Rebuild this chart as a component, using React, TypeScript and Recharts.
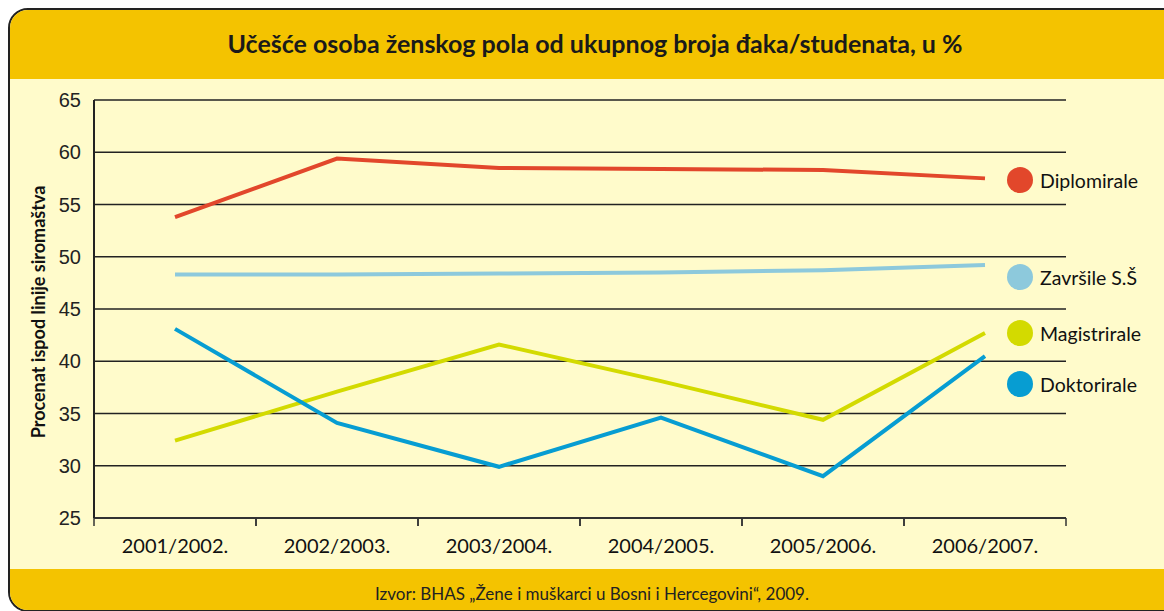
import { LineChart, Line, XAxis, YAxis, CartesianGrid } from 'recharts'

const years = ['2001/2002.', '2002/2003.', '2003/2004.', '2004/2005.', '2005/2006.', '2006/2007.']
const diplomirale = [53.8, 59.4, 58.5, 58.4, 58.3, 57.5]
const zavrsile = [48.3, 48.3, 48.4, 48.5, 48.7, 49.2]
const magistrirale = [32.4, 37.1, 41.6, 38.1, 34.4, 42.7]
const doktorirale = [43.1, 34.1, 29.9, 34.6, 29.0, 40.5]
const yTicks = [25, 30, 35, 40, 45, 50, 55, 60, 65]

const series = [
  { key: 'diplomirale', name: 'Diplomirale', color: '#E2472B', legendY: 180 },
  { key: 'zavrsile', name: 'Završile S.Š', color: '#8DC9DC', legendY: 277 },
  { key: 'magistrirale', name: 'Magistrirale', color: '#D3DA00', legendY: 333 },
  { key: 'doktorirale', name: 'Doktorirale', color: '#079DD2', legendY: 384 },
]

const data = years.map((year, i) => ({
  year,
  diplomirale: diplomirale[i],
  zavrsile: zavrsile[i],
  magistrirale: magistrirale[i],
  doktorirale: doktorirale[i],
}))

const HALF_BAND = 81

function XTick(props: any) {
  const { x, y, payload } = props
  return (
    <g>
      <line x1={x - HALF_BAND} y1={y - 8} x2={x - HALF_BAND} y2={y} stroke="#333" strokeWidth={1.5} />
      <line x1={x + HALF_BAND} y1={y - 8} x2={x + HALF_BAND} y2={y} stroke="#333" strokeWidth={1.5} />
      <text x={x} y={y + 27} textAnchor="middle" fontFamily="Lato, sans-serif" fontSize={20} fill="#111">
        {payload.value}
      </text>
    </g>
  )
}

export default function App() {
  return (
    <div style={{ position: 'relative', width: 1164, height: 611, overflow: 'hidden', background: '#fff' }}>
      <style>{`body{margin:0;overflow:hidden}`}</style>
      <div
        style={{
          position: 'absolute',
          left: 8,
          top: 8,
          width: 1170,
          height: 600,
          border: '2px solid #222',
          borderRadius: 20,
          overflow: 'hidden',
          background: '#FFFBCB',
        }}
      >
        <div style={{ position: 'absolute', left: 0, top: 0, right: 0, height: 69, background: '#F4C300' }} />
        <div style={{ position: 'absolute', left: 0, top: 559, right: 0, bottom: 0, background: '#F4C300' }} />
      </div>
      <div
        style={{
          position: 'absolute',
          left: 0,
          top: 28,
          width: 1190,
          textAlign: 'center',
          fontFamily: 'Lato, sans-serif',
          fontWeight: 700,
          fontSize: 25,
          color: '#1a1a1a',
        }}
      >
        Učešće osoba ženskog pola od ukupnog broja đaka/studenata, u %
      </div>
      <div
        style={{
          position: 'absolute',
          left: 0,
          top: 583,
          width: 1184,
          textAlign: 'center',
          fontFamily: 'Lato, sans-serif',
          fontSize: 17,
          color: '#222',
        }}
      >
        Izvor: BHAS  „Žene i muškarci u Bosni i Hercegovini“, 2009.
      </div>
      <div
        style={{
          position: 'absolute',
          left: 38,
          top: 312,
          transform: 'translate(-50%, -50%) rotate(-90deg)',
          whiteSpace: 'nowrap',
          fontFamily: 'Lato, sans-serif',
          fontWeight: 700,
          fontSize: 18,
          color: '#111',
        }}
      >
        Procenat ispod linije siromaštva
      </div>
      <div style={{ position: 'absolute', left: 0, top: 0 }}>
        <LineChart width={1164} height={611} data={data} margin={{ top: 100, right: 98, left: 34, bottom: 53 }}>
          <CartesianGrid vertical={false} stroke="#222" strokeWidth={1.5} />
          <XAxis
            dataKey="year"
            padding={{ left: HALF_BAND, right: HALF_BAND }}
            axisLine={{ stroke: '#333', strokeWidth: 2 }}
            tickLine={false}
            tick={<XTick />}
            height={40}
            interval={0}
          />
          <YAxis
            domain={[25, 65]}
            ticks={yTicks}
            width={60}
            axisLine={{ stroke: '#222', strokeWidth: 2 }}
            tickLine={false}
            tickMargin={7}
            tick={{ fontFamily: 'Liberation Sans, Arial, sans-serif', fontSize: 20, fill: '#222' }}
          />
          {series.map((s) => (
            <Line
              key={s.key}
              type="linear"
              dataKey={s.key}
              name={s.name}
              stroke={s.color}
              strokeWidth={4}
              dot={false}
              isAnimationActive={false}
            />
          ))}
        </LineChart>
      </div>
      {series.map((s) => (
        <div key={s.key} style={{ position: 'absolute', left: 1007, top: s.legendY - 13, display: 'flex', alignItems: 'center' }}>
          <div style={{ width: 26, height: 26, borderRadius: 13, background: s.color }} />
          <span style={{ marginLeft: 7, fontFamily: 'Lato, sans-serif', fontSize: 19.5, color: '#111' }}>{s.name}</span>
        </div>
      ))}
    </div>
  )
}
